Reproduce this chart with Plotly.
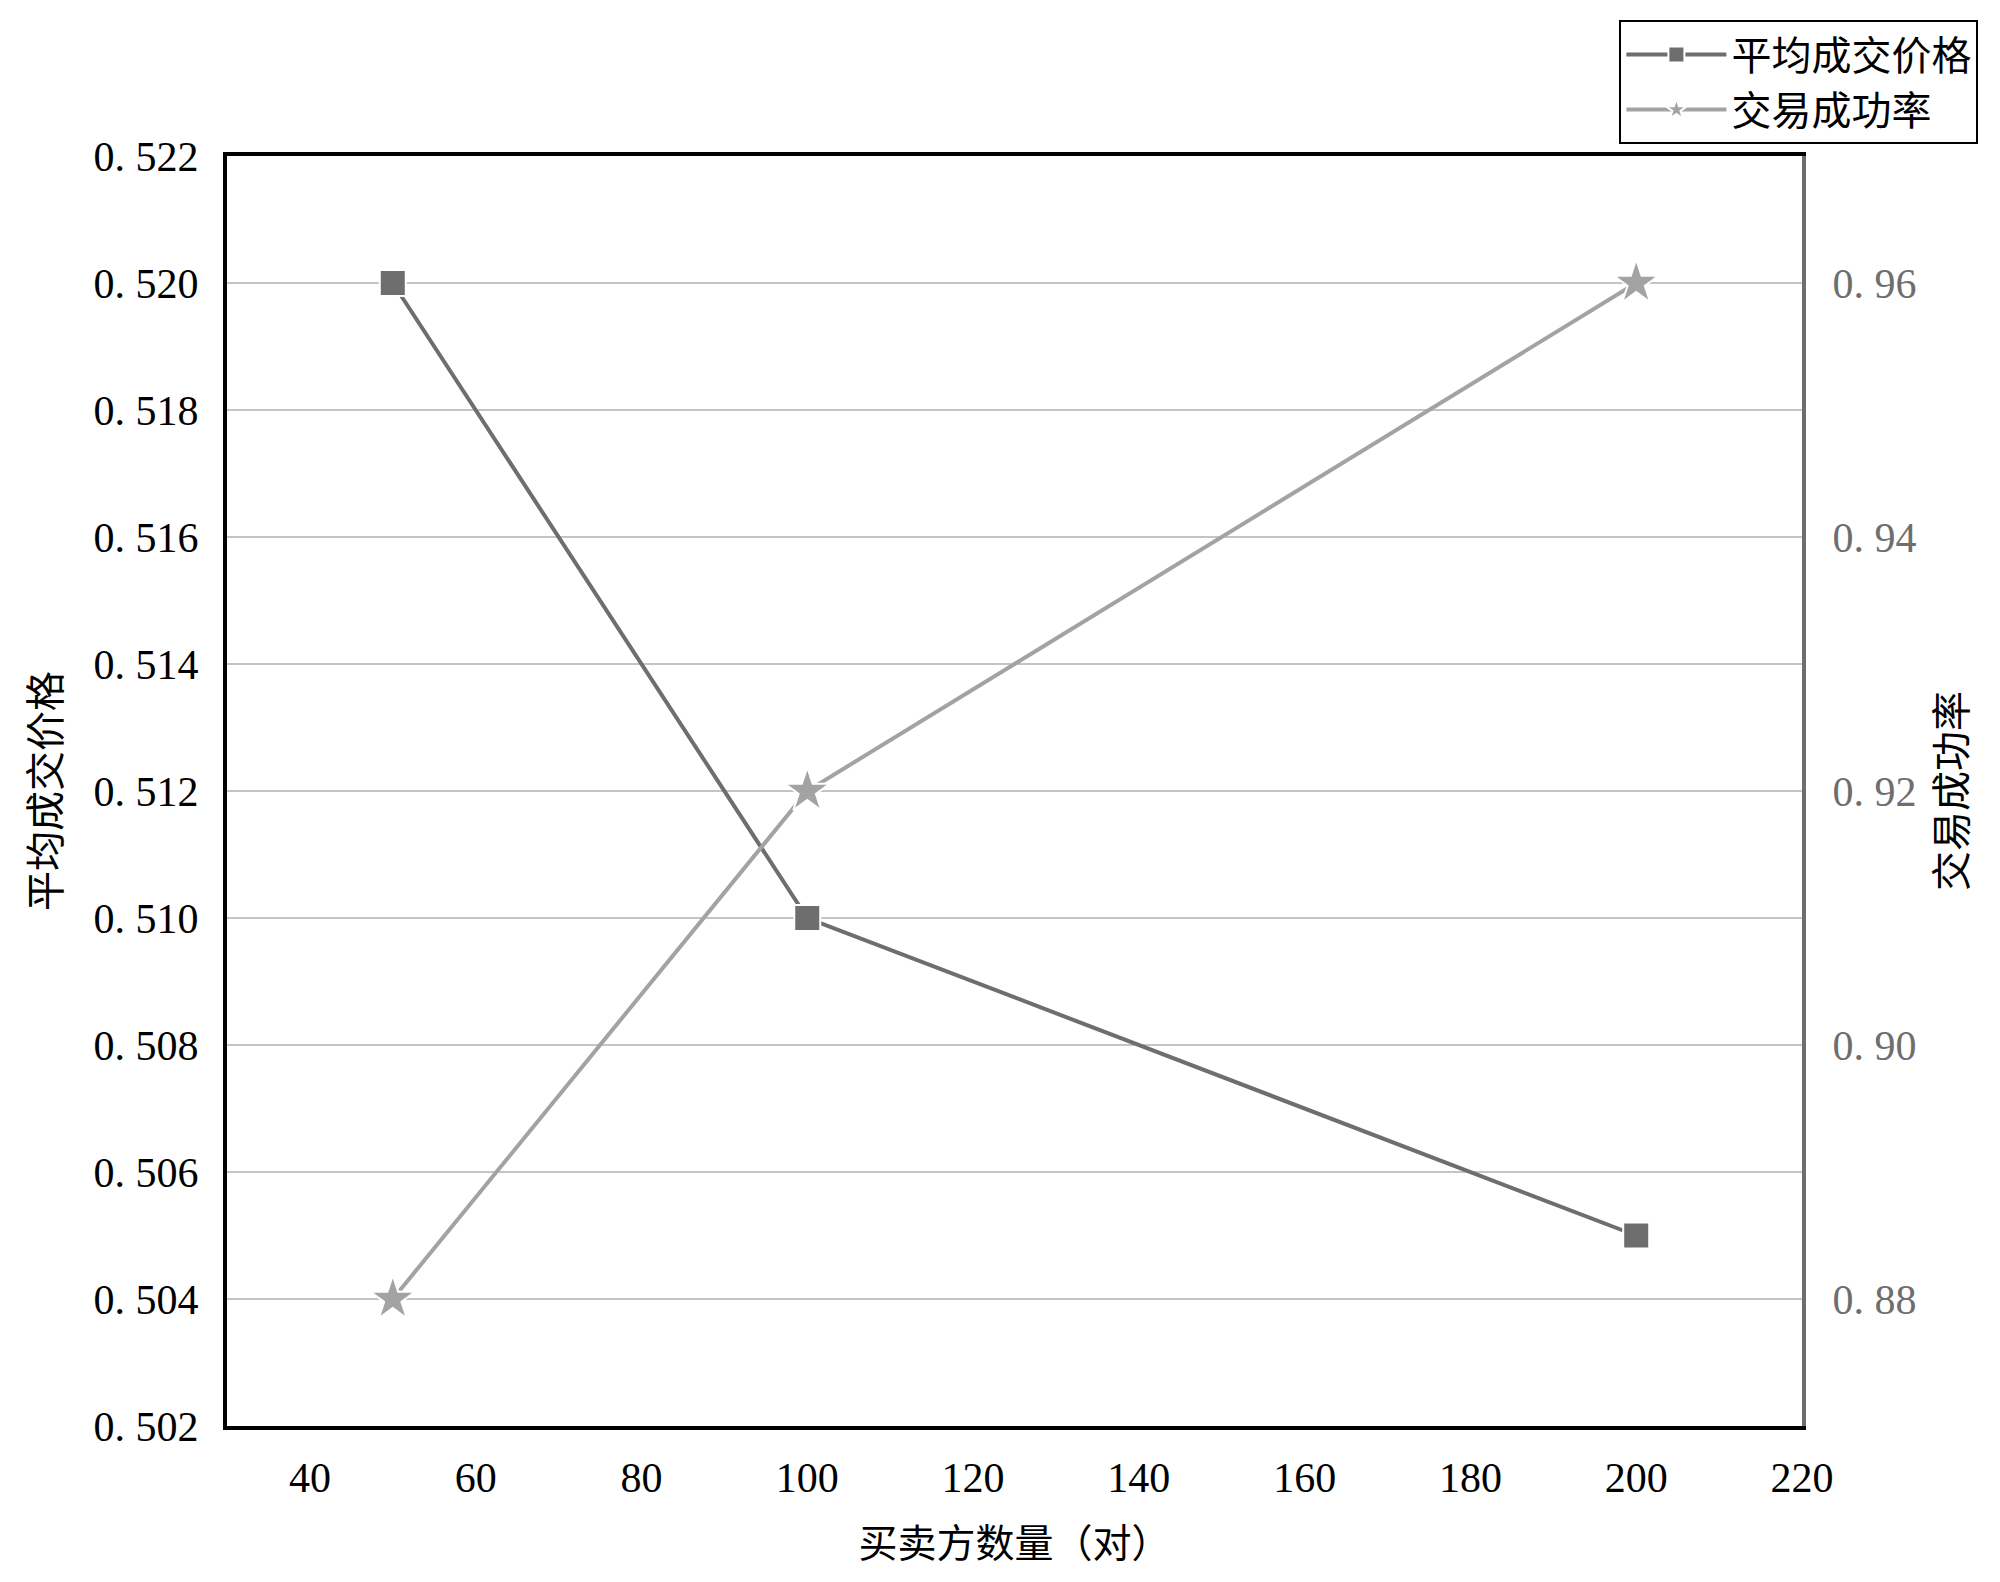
import plotly.graph_objects as go

pairs = [50, 100, 200]
avg_price = [0.520, 0.510, 0.505]
success_rate = [0.88, 0.92, 0.96]

left_ticks = [0.502, 0.504, 0.506, 0.508, 0.510, 0.512, 0.514, 0.516, 0.518, 0.520, 0.522]
left_labels = ["0. 502", "0. 504", "0. 506", "0. 508", "0. 510", "0. 512",
               "0. 514", "0. 516", "0. 518", "0. 520", "0. 522"]
right_ticks = [0.88, 0.90, 0.92, 0.94, 0.96]
right_labels = ["0. 88", "0. 90", "0. 92", "0. 94", "0. 96"]
x_ticks = [40, 60, 80, 100, 120, 140, 160, 180, 200, 220]

NUM_FONT = "Liberation Serif, DejaVu Serif, serif"
CJK_FONT = "Noto Sans CJK SC, sans-serif"

fig = go.Figure()
fig.add_trace(go.Scatter(
    x=pairs, y=avg_price, mode="lines+markers", name="平均成交价格",
    line=dict(color="#6e6e6e", width=4),
    marker=dict(symbol="square", size=26, color="#6e6e6e",
                line=dict(color="white", width=2)),
))
fig.add_trace(go.Scatter(
    x=pairs, y=success_rate, mode="lines+markers", name="交易成功率", yaxis="y2",
    line=dict(color="#a3a3a3", width=4),
    marker=dict(symbol="star", size=34, color="#a3a3a3",
                line=dict(color="white", width=2)),
))

fig.update_layout(
    width=2000, height=1582,
    paper_bgcolor="white", plot_bgcolor="white",
    margin=dict(l=219, r=206, t=148, b=164),
    font=dict(family=CJK_FONT, size=38, color="black"),
    xaxis=dict(
        range=[30, 220], tickvals=x_ticks, showgrid=False, zeroline=False,
        showline=True, linecolor="black", linewidth=4, mirror=True,
        ticks="", ticklabelstandoff=12,
        tickfont=dict(family=NUM_FONT, size=42, color="black"),
        title=dict(text="买卖方数量（对）", font=dict(family=CJK_FONT, size=39),
                   standoff=30),
    ),
    yaxis=dict(
        range=[0.502, 0.522], tickvals=left_ticks, ticktext=left_labels,
        showgrid=True, gridcolor="#c4c4c4", gridwidth=2, zeroline=False,
        showline=True, linecolor="black", linewidth=4,
        ticks="", ticklabelstandoff=16,
        tickfont=dict(family=NUM_FONT, size=42, color="black"),
        title=dict(text="平均成交价格", font=dict(family=CJK_FONT, size=40),
                   standoff=22),
    ),
    yaxis2=dict(
        range=[0.87, 0.97], tickvals=right_ticks, ticktext=right_labels,
        overlaying="y", side="right", showgrid=False, zeroline=False,
        showline=True, linecolor="#6e6e6e", linewidth=4,
        ticks="", ticklabelstandoff=18,
        tickfont=dict(family=NUM_FONT, size=42, color="#6e6e6e"),
        title=dict(text="交易成功率", font=dict(family=CJK_FONT, size=40, color="black"),
                   standoff=24),
    ),
    legend=dict(
        x=1.112, y=1.107, xanchor="right", yanchor="top",
        bgcolor="white", bordercolor="black", borderwidth=2,
        font=dict(family=CJK_FONT, size=40, color="black"),
        tracegroupgap=0, itemwidth=100,
    ),
    showlegend=True,
)

fig.write_html("out.html")
